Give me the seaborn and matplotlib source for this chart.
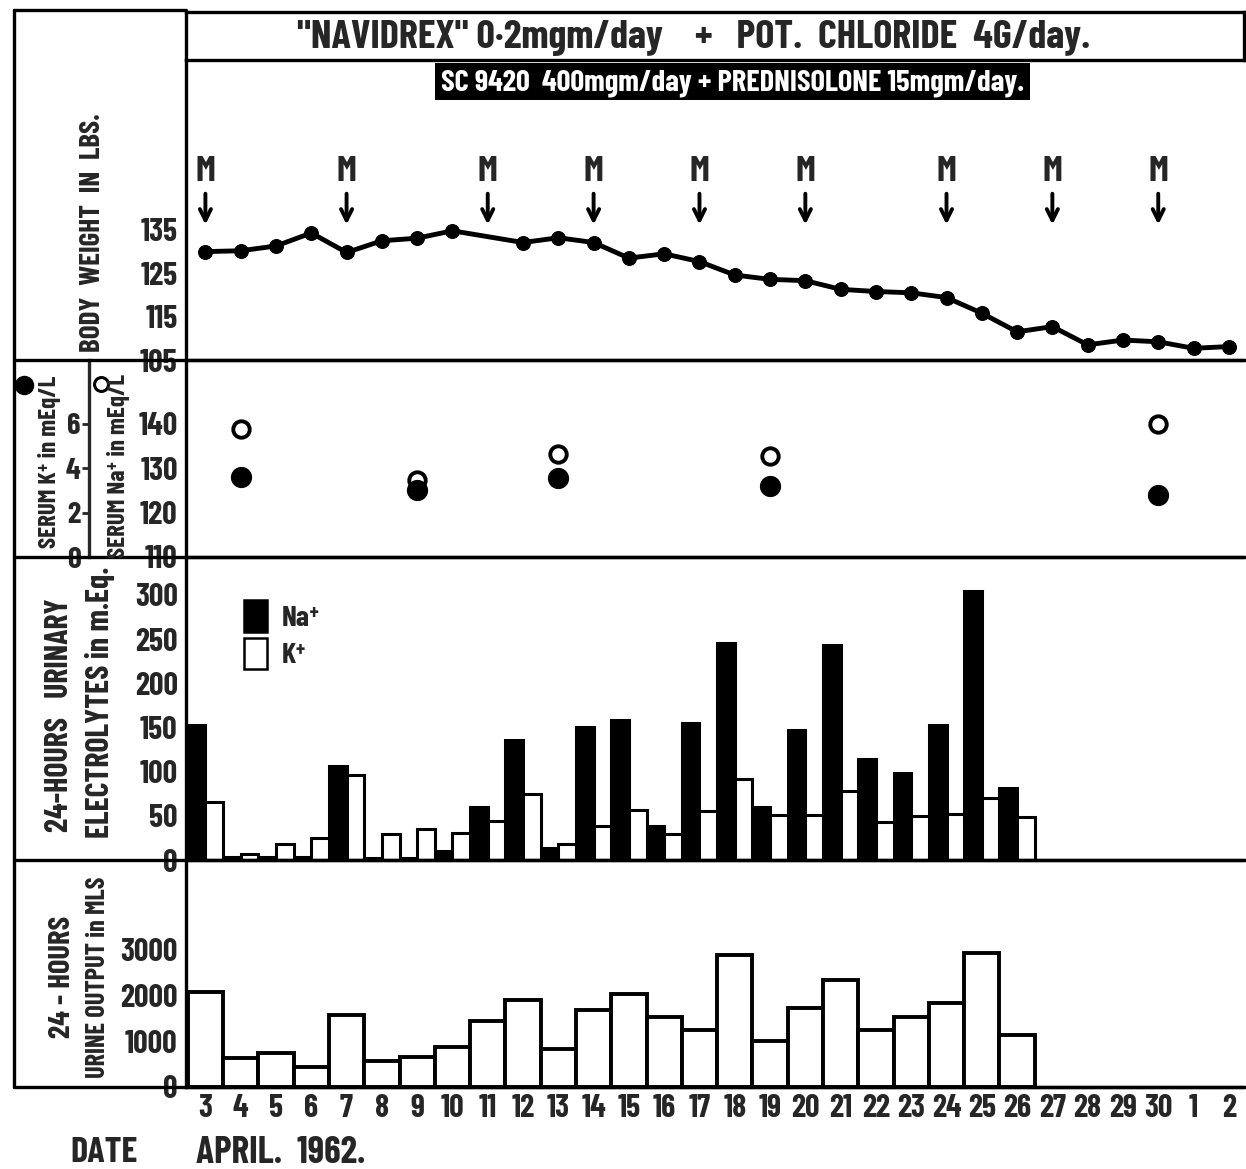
import numpy as np
import pandas as pd
import matplotlib
matplotlib.use('Agg')
import matplotlib.pyplot as plt
import seaborn as sns
from matplotlib.lines import Line2D
from matplotlib.patches import Patch, Rectangle

# dates along the bottom (April 1962, running into May)
dates = ['3', '4', '5', '6', '7', '8', '9', '10', '11', '12', '13', '14', '15', '16', '17',
         '18', '19', '20', '21', '22', '23', '24', '25', '26', '27', '28', '29', '30', '1', '2']

# body weight (no reading on the 11th)
weight_dates = ['3', '4', '5', '6', '7', '8', '9', '10', '12', '13', '14', '15', '16', '17',
                '18', '19', '20', '21', '22', '23', '24', '25', '26', '27', '28', '29', '30', '1', '2']
weight = [130.0, 130.2, 131.3, 134.3, 129.8, 132.5, 133.1, 134.8, 132.1, 133.2, 132.1,
          128.5, 129.5, 127.7, 124.6, 123.6, 123.3, 121.3, 120.8, 120.5, 119.4, 115.8,
          111.5, 112.7, 108.5, 109.6, 109.2, 107.7, 108.1]
m_dates = ['3', '7', '11', '14', '17', '20', '24', '27', '30']

# serum electrolytes
serum_dates = ['4', '9', '13', '19', '30']
serum_na = [138.8, 127.4, 133.1, 132.7, 139.9]
serum_k = [3.6, 3.0, 3.55, 3.2, 2.8]

# 24 hour urinary electrolytes and volume
urine_dates = dates[:24]
urine_na = [153, 3, 3, 3, 106, 2, 2, 10, 60, 136, 14, 150, 158, 39, 155, 246, 60, 147,
            243, 114, 98, 153, 304, 81]
urine_k = [66, 7, 18, 25, 96, 29, 35, 30, 44, 75, 18, 38, 57, 29, 55, 92, 51, 51, 78,
           43, 50, 52, 70, 49]
urine_vol = [2060, 633, 743, 427, 1567, 559, 662, 868, 1435, 1898, 832, 1678, 2024, 1516,
             1251, 2870, 1001, 1715, 2340, 1236, 1530, 1840, 2929, 1141]

sns.set_style('white')
plt.rcParams['font.family'] = ['Barlow Condensed', 'Roboto Condensed', 'DejaVu Sans']
plt.rcParams['font.weight'] = 'bold'

pos = {d: i for i, d in enumerate(dates)}
W, H = 1246, 1169
fig = plt.figure(figsize=(W / 100, H / 100), dpi=100)


def fx(x):
    return x / W


def fy(y):
    return 1 - y / H


L, R = fx(186), fx(1244)
ax_h = fig.add_axes([L, fy(60), R - L, 48 / H])
ax_w = fig.add_axes([L, fy(360), R - L, 300 / H])
ax_s = fig.add_axes([L, fy(557), R - L, 197 / H])
ax_e = fig.add_axes([L, fy(860), R - L, 303 / H])
ax_u = fig.add_axes([L, fy(1087), R - L, 227 / H])

# weight
wx = [pos[d] for d in weight_dates]
sns.lineplot(x=wx, y=weight, ax=ax_w, color='black', linewidth=3.5, marker='o',
             markersize=10, markeredgecolor='black')
ax_w.set_ylim(105, 174.2)
ax_w.set_yticks([105, 115, 125, 135])
for d in m_dates:
    ax_w.text(pos[d], 148.4, 'M', ha='center', va='center', fontsize=26)
    ax_w.annotate('', xy=(pos[d], 135.6), xytext=(pos[d], 144.0),
                  arrowprops=dict(arrowstyle='->', lw=2.8, color='black', mutation_scale=20))

# serum
sx = [pos[d] for d in serum_dates]
sns.scatterplot(x=sx, y=serum_na, ax=ax_s, marker='o', s=140, facecolor='white',
                edgecolor='black', linewidth=2.8)
sns.scatterplot(x=sx, y=[110 + 5 * k for k in serum_k], ax=ax_s, marker='o', s=200,
                color='black', edgecolor='black')
ax_s.set_ylim(110, 154.3)
ax_s.set_yticks([110, 120, 130, 140])
sec = ax_s.secondary_yaxis((89 - 186) / (1244 - 186),
                           functions=(lambda v: (v - 110) / 5, lambda k: 110 + 5 * k))
sec.set_yticks([0, 2, 4, 6])
sec.tick_params(direction='out', length=5, width=2, labelsize=22, pad=1)
for sp in sec.spines.values():
    sp.set_linewidth(2.4)

# urinary electrolytes
elec = pd.DataFrame({
    'x': [pos[d] for d in urine_dates] * 2,
    'val': urine_na + urine_k,
    'ion': ['Na'] * len(urine_na) + ['K'] * len(urine_k),
})
sns.barplot(data=elec, x='x', y='val', hue='ion', hue_order=['Na', 'K'],
            palette={'Na': 'black', 'K': 'white'}, native_scale=True, dodge=True,
            width=1.0, errorbar=None, saturation=1, edgecolor='black', linewidth=2.2,
            legend=False, ax=ax_e)
ax_e.set_ylim(0, 343)
ax_e.set_yticks([0, 50, 100, 150, 200, 250, 300])
ax_e.legend(handles=[Patch(facecolor='black', edgecolor='black', lw=1.8),
                     Patch(facecolor='white', edgecolor='black', lw=1.8)],
            labels=['Na⁺', 'K⁺'], loc='upper left', bbox_to_anchor=(0.03, 0.945),
            frameon=False, handlelength=0.8, handleheight=1.3, handletextpad=0.5,
            labelspacing=0.2, fontsize=21)

# urine volume
sns.barplot(x=[pos[d] for d in urine_dates], y=urine_vol, native_scale=True, width=1.0,
            color='white', edgecolor='black', linewidth=2.8, errorbar=None,
            saturation=1, ax=ax_u)
ax_u.set_ylim(0, 4945)
ax_u.set_yticks([0, 1000, 2000, 3000])

for ax in [ax_w, ax_s, ax_e, ax_u]:
    ax.set_xlim(-0.55, 29.43)
    ax.set_xlabel('')
    ax.set_ylabel('')
    ax.set_xticks(range(len(dates)))
    ax.set_xticklabels(dates if ax is ax_u else [])
    ax.tick_params(axis='x', length=0, labelsize=23, pad=5)
    ax.tick_params(axis='y', direction='out', length=5, width=2, labelsize=23, pad=1)
    sns.despine(ax=ax, top=True, right=True)
    for side in ['left', 'bottom']:
        ax.spines[side].set_linewidth(2.4)
        ax.spines[side].set_color('black')
    ax.patch.set_alpha(0)

# header box
ax_h.set_xticks([])
ax_h.set_yticks([])
for sp in ax_h.spines.values():
    sp.set_linewidth(2.4)
    sp.set_color('black')
ax_h.text(0.48, 0.46, '"NAVIDREX" 0·2mgm/day    +   POT.  CHLORIDE  4G/day.',
          transform=ax_h.transAxes, ha='center', va='center', fontsize=29)
fig.add_artist(Rectangle((fx(435), fy(100)), fx(1030) - fx(435), 37 / H,
                         transform=fig.transFigure, facecolor='black', edgecolor='none'))
fig.text(fx(733), fy(83), 'SC 9420  400mgm/day + PREDNISOLONE 15mgm/day.', color='white',
         ha='center', va='center', fontsize=22)

# frame lines on the left
for y in [360, 557, 860, 1087]:
    fig.add_artist(Line2D([fx(14), fx(1244)], [fy(y), fy(y)], color='black', lw=2.4))
fig.add_artist(Line2D([fx(14), fx(14)], [fy(10), fy(1087)], color='black', lw=2.4))
fig.add_artist(Line2D([fx(14), fx(186)], [fy(10), fy(10)], color='black', lw=2.4))

# side labels
fig.text(fx(92), fy(233), 'BODY  WEIGHT  IN  LBS.', rotation=90, ha='center', va='center',
         fontsize=21)
fig.text(fx(50), fy(462), 'SERUM K⁺ in mEq/L', rotation=90, ha='center', va='center',
         fontsize=18)
fig.text(fx(119), fy(466), 'SERUM Na⁺ in mEq/L', rotation=90, ha='center', va='center',
         fontsize=18)
fig.add_artist(Line2D([fx(24)], [fy(385)], marker='o', markersize=13, color='black',
                      transform=fig.transFigure))
fig.add_artist(Line2D([fx(101)], [fy(384)], marker='o', markersize=10, markerfacecolor='white',
                      markeredgecolor='black', markeredgewidth=2.2, transform=fig.transFigure))
fig.text(fx(60), fy(715), '24-HOURS   URINARY', rotation=90, ha='center', va='center',
         fontsize=23)
fig.text(fx(100), fy(702), 'ELECTROLYTES in m.Eq.', rotation=90, ha='center', va='center',
         fontsize=23)
fig.text(fx(62), fy(977), '24 - HOURS', rotation=90, ha='center', va='center', fontsize=22)
fig.text(fx(98), fy(977), 'URINE OUTPUT in MLS', rotation=90, ha='center', va='center',
         fontsize=19)
fig.text(fx(70), fy(1153), 'DATE', ha='left', va='center', fontsize=26)
fig.text(fx(196), fy(1153), 'APRIL.  1962.', ha='left', va='center', fontsize=27)

fig.savefig('out.png', dpi=100)
